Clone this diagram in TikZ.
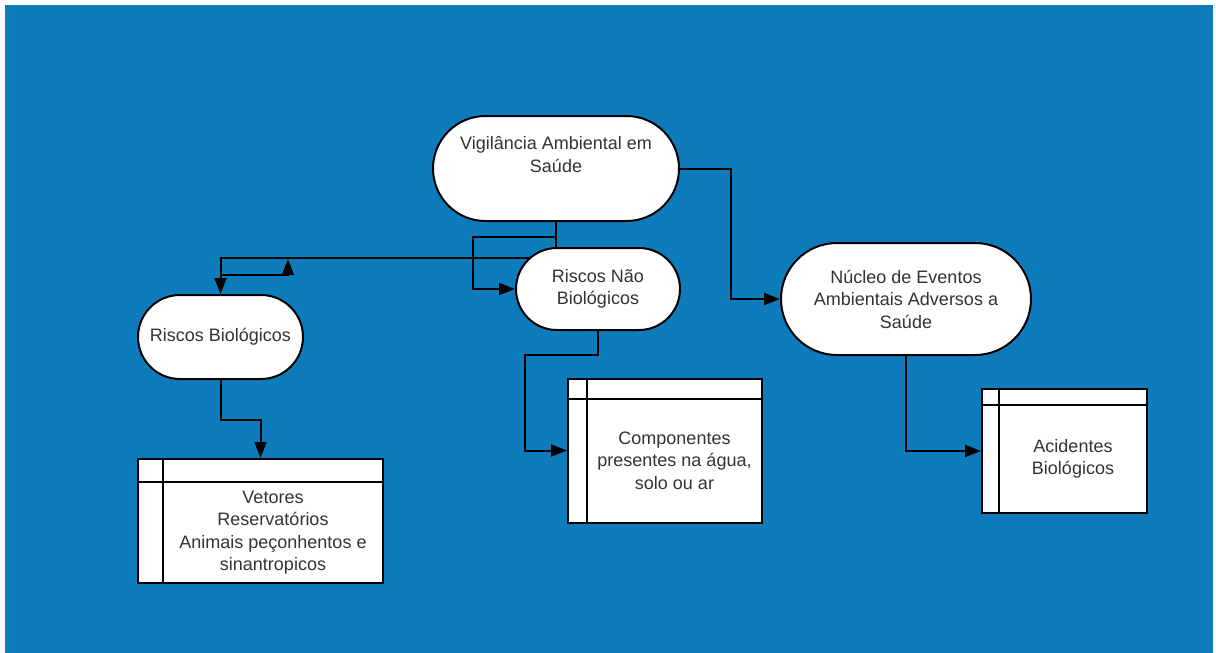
\documentclass[tikz,border=0pt]{standalone}
\usepackage{fontspec}
\setmainfont{Liberation Sans}
\usetikzlibrary{arrows.meta,shapes.misc}
\definecolor{fundo}{RGB}{14,124,187}
\definecolor{texto}{RGB}{51,51,51}

\begin{document}
\begin{tikzpicture}[x=1pt,y=-1pt,
  every node/.style={font=\fontsize{18}{22.5}\selectfont, text=texto},
  etapa/.style={rounded rectangle, draw, fill=white, line width=2pt,
    align=center, inner sep=0pt},
  deposito/.style 2 args={draw, fill=white, line width=2pt, inner sep=0pt,
    path picture={
      \draw[line width=2pt] ([xshift=#1]path picture bounding box.north west) --
      ([xshift=#1]path picture bounding box.south west);
      \draw[line width=2pt] ([yshift=-#2]path picture bounding box.north west) --
      ([yshift=-#2]path picture bounding box.north east);}},
  linha/.style={line width=2pt},
  seta/.style={line width=2pt, -{Triangle[length=16pt,width=12pt]}}]
  \useasboundingbox (0,0) rectangle (1216,653);
  \fill[fundo] (5,5) rectangle (1213,653);

  \node[etapa, minimum width=246, minimum height=105, text depth=28pt]
  (vigilancia) at (556,168.5) {Vigilância Ambiental em\\Saúde};
  \node[etapa, minimum width=164, minimum height=82]
  (naobio) at (598,289) {Riscos Não\\Biológicos};
  \node[etapa, minimum width=165, minimum height=84]
  (bio) at (220.5,337) {Riscos Biológicos};
  \node[etapa, minimum width=250, minimum height=112]
  (nucleo) at (906,299) {Núcleo de Eventos\\Ambientais Adversos a\\Saúde};

  \node[deposito={25pt}{23pt}, minimum width=245, minimum height=124,
  label={[xshift=12.5, yshift=-11.5, align=center]center:{Vetores\\Reservatórios\\Animais peçonhentos e\\sinantropicos}}]
  (vetores) at (260.5,521) {};
  \node[deposito={19pt}{20pt}, minimum width=194, minimum height=144,
  label={[xshift=9.5, yshift=-10, align=center]center:{Componentes\\presentes na água,\\solo ou ar}}]
  (componentes) at (665,450.5) {};
  \node[deposito={17pt}{16pt}, minimum width=165, minimum height=124,
  label={[xshift=8.5, yshift=-8, align=center]center:{Acidentes\\Biológicos}}]
  (acidentes) at (1064.5,451) {};

  \coordinate (retorno) at (288,259);

  \draw[seta] (vigilancia.east) -- ++(51,0) |- (nucleo.west);
  \draw[linha] (vigilancia.south) -- (vigilancia.south |- naobio.north);
  \draw[seta] ([yshift=-15pt]vigilancia.south) -- ++(-83,0) |- (naobio.west);
  \draw[seta] (naobio.156) -| (bio.north);
  \draw[seta] ([yshift=19pt]bio.north) -| (retorno);
  \draw[seta] (bio.south) -- ++(0,40) -| (vetores.north);
  \draw[seta] (naobio.south) -- ++(0,24) -- ++(-73,0) |- (componentes.west);
  \draw[seta] (nucleo.south) |- (acidentes.west);
\end{tikzpicture}
\end{document}
